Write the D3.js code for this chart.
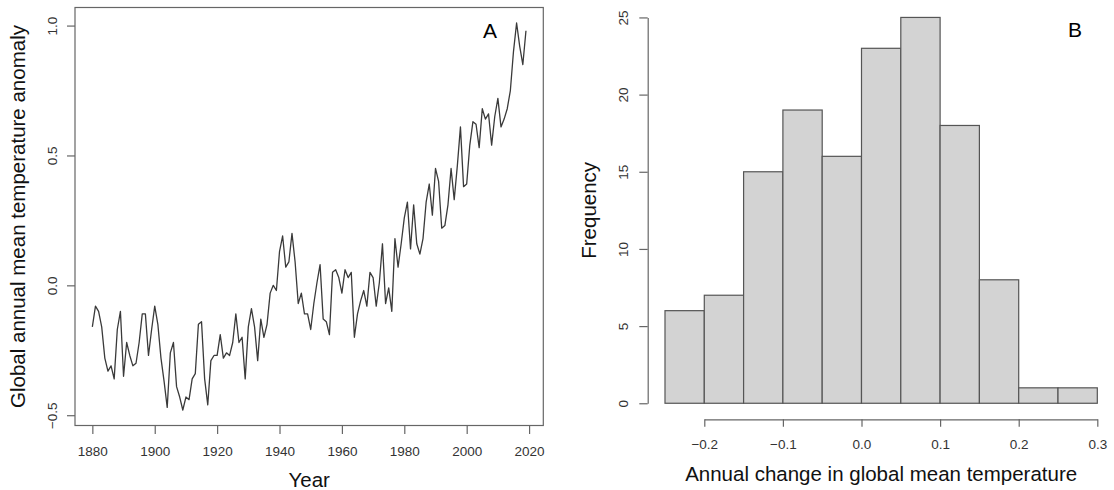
<!DOCTYPE html>
<html>
<head>
<meta charset="utf-8">
<script src="https://cdn.jsdelivr.net/npm/d3@7"></script>
<style>
  body { margin: 0; background: #fff; }
  svg { display: block; font-family: "Liberation Sans", Arial, sans-serif; }
</style>
</head>
<body>
<div id="chart"></div>
<script>
const width = 1114;
const height = 490;

// ===== DATA =====
const firstYear = 1880;
const anomaly = [
  -0.16, -0.08, -0.10, -0.16, -0.28, -0.33, -0.31, -0.36, -0.17, -0.10,
  -0.35, -0.22, -0.27, -0.31, -0.30, -0.22, -0.11, -0.11, -0.27, -0.17,
  -0.08, -0.15, -0.28, -0.37, -0.47, -0.26, -0.22, -0.39, -0.43, -0.48,
  -0.43, -0.44, -0.36, -0.34, -0.15, -0.14, -0.36, -0.46, -0.29, -0.27,
  -0.27, -0.19, -0.28, -0.26, -0.27, -0.22, -0.11, -0.22, -0.20, -0.36,
  -0.16, -0.09, -0.16, -0.29, -0.13, -0.20, -0.15, -0.03, 0.00, -0.02,
  0.13, 0.19, 0.07, 0.09, 0.20, 0.09, -0.07, -0.03, -0.11, -0.11,
  -0.17, -0.07, 0.01, 0.08, -0.13, -0.14, -0.19, 0.05, 0.06, 0.03,
  -0.03, 0.06, 0.03, 0.05, -0.20, -0.11, -0.06, -0.02, -0.08, 0.05,
  0.03, -0.08, 0.01, 0.16, -0.07, -0.01, -0.10, 0.18, 0.07, 0.16,
  0.26, 0.32, 0.14, 0.31, 0.16, 0.12, 0.18, 0.32, 0.39, 0.27,
  0.45, 0.40, 0.22, 0.23, 0.31, 0.45, 0.33, 0.46, 0.61, 0.38,
  0.39, 0.54, 0.63, 0.62, 0.53, 0.68, 0.64, 0.66, 0.54, 0.65,
  0.72, 0.61, 0.64, 0.68, 0.75, 0.90, 1.01, 0.92, 0.85, 0.98
];
const years = anomaly.map((d, i) => firstYear + i);

const binEdges = [-0.25, -0.2, -0.15, -0.1, -0.05, 0, 0.05, 0.1, 0.15, 0.2, 0.25, 0.3];
const binCounts = [6, 7, 15, 19, 16, 23, 25, 18, 8, 1, 1];

const yearTicks = [1880, 1900, 1920, 1940, 1960, 1980, 2000, 2020];
const anomalyTicks = [-0.5, 0, 0.5, 1.0];
const freqTicks = [0, 5, 10, 15, 20, 25];
const changeTicks = [-0.2, -0.1, 0, 0.1, 0.2, 0.3];

// R-style 4% padding of the data range
const pad = ([a, b]) => [a - 0.04 * (b - a), b + 0.04 * (b - a)];

const axisColor = "#666";
const textColor = "#333";

const svg = d3.select("#chart").append("svg")
  .attr("width", width)
  .attr("height", height);

// ===== PANEL A: LINE =====
const boxA = { left: 75, right: 543.3, top: 7.5, bottom: 425.5 };

const xA = d3.scaleLinear()
  .domain(pad(d3.extent(years)))
  .range([boxA.left, boxA.right]);

const yA = d3.scaleLinear()
  .domain(pad(d3.extent(anomaly)))
  .range([boxA.bottom, boxA.top]);

const series = years.map((y, i) => ({ year: y, value: anomaly[i] }));

svg.append("path")
  .datum(series)
  .attr("fill", "none")
  .attr("stroke", "#3a3a3a")
  .attr("stroke-width", 1.3)
  .attr("stroke-linejoin", "round")
  .attr("d", d3.line().x(d => xA(d.year)).y(d => yA(d.value)));

svg.append("rect")
  .attr("x", boxA.left)
  .attr("y", boxA.top)
  .attr("width", boxA.right - boxA.left)
  .attr("height", boxA.bottom - boxA.top)
  .attr("fill", "none")
  .attr("stroke", axisColor)
  .attr("stroke-width", 1.2);

const xAxisA = svg.append("g")
  .attr("transform", `translate(0,${boxA.bottom})`)
  .call(d3.axisBottom(xA).tickValues(yearTicks).tickSize(8.5).tickFormat(d3.format("d")));
xAxisA.select(".domain").remove();

const yAxisA = svg.append("g")
  .attr("transform", `translate(${boxA.left},0)`)
  .call(d3.axisLeft(yA).tickValues(anomalyTicks).tickSize(8).tickFormat(d3.format(".1f")));
yAxisA.select(".domain").remove();

// ===== PANEL B: HISTOGRAM =====
const xB = d3.scaleLinear()
  .domain(pad([binEdges[0], binEdges[binEdges.length - 1]]))
  .range([647.7, 1114.6]);

const yB = d3.scaleLinear()
  .domain(pad([0, 25]))
  .range([418.7, 2]);

const bins = binCounts.map((c, i) => ({ x0: binEdges[i], x1: binEdges[i + 1], count: c }));

svg.selectAll(".bar")
  .data(bins)
  .enter()
  .append("rect")
  .attr("class", "bar")
  .attr("x", d => xB(d.x0))
  .attr("y", d => yB(d.count))
  .attr("width", d => xB(d.x1) - xB(d.x0))
  .attr("height", d => yB(0) - yB(d.count))
  .attr("fill", "#d3d3d3")
  .attr("stroke", "#555")
  .attr("stroke-width", 1.2);

const yAxisScaleB = yB.copy().domain([0, 25]).range([yB(0), yB(25)]);
const yAxisB = svg.append("g")
  .attr("transform", `translate(${xB.range()[0]},0)`)
  .call(d3.axisLeft(yAxisScaleB).tickValues(freqTicks).tickSize(8.4).tickSizeOuter(0));

const xAxisScaleB = xB.copy().domain([-0.2, 0.3]).range([xB(-0.2), xB(0.3)]);
const xAxisB = svg.append("g")
  .attr("transform", `translate(0,${yB.range()[0] + 0.6})`)
  .call(d3.axisBottom(xAxisScaleB).tickValues(changeTicks).tickSize(7.5).tickSizeOuter(0)
    .tickFormat(d3.format(".1f")));

// ===== AXIS STYLING =====
[xAxisA, yAxisA, xAxisB, yAxisB].forEach(g => {
  g.selectAll("line, path").attr("stroke", axisColor).attr("stroke-width", 1.2);
  g.selectAll("text")
    .attr("fill", textColor)
    .style("font-size", "13.5px")
    .style("font-family", "'Liberation Sans', Arial, sans-serif");
});

[xAxisA, xAxisB].forEach(g => {
  g.selectAll("text").attr("y", 30).attr("dy", 0);
});

yAxisA.selectAll("text")
  .attr("x", 0).attr("dy", 0).attr("text-anchor", "middle")
  .attr("transform", "translate(-18,0) rotate(-90)");
yAxisB.selectAll("text")
  .attr("x", 0).attr("dy", 0).attr("text-anchor", "middle")
  .attr("transform", "translate(-19.5,0) rotate(-90)");

// ===== TITLES =====
const titleSize = "20.5px";

svg.append("text")
  .attr("x", (boxA.left + boxA.right) / 2)
  .attr("y", 487)
  .attr("text-anchor", "middle")
  .attr("fill", "#111")
  .style("font-size", titleSize)
  .text("Year");

svg.append("text")
  .attr("transform", `translate(24.5,${(boxA.top + boxA.bottom) / 2}) rotate(-90)`)
  .attr("text-anchor", "middle")
  .attr("fill", "#111")
  .style("font-size", titleSize)
  .text("Global annual mean temperature anomaly");

svg.append("text")
  .attr("x", (xB.range()[0] + xB.range()[1]) / 2)
  .attr("y", 481)
  .attr("text-anchor", "middle")
  .attr("fill", "#111")
  .style("font-size", titleSize)
  .text("Annual change in global mean temperature");

svg.append("text")
  .attr("transform", `translate(596,${(yB.range()[0] + yB.range()[1]) / 2}) rotate(-90)`)
  .attr("text-anchor", "middle")
  .attr("fill", "#111")
  .style("font-size", titleSize)
  .text("Frequency");

// panel letters
svg.append("text")
  .attr("x", 490).attr("y", 38)
  .attr("text-anchor", "middle")
  .attr("fill", "#000")
  .style("font-size", "21px")
  .text("A");

svg.append("text")
  .attr("x", 1075).attr("y", 37)
  .attr("text-anchor", "middle")
  .attr("fill", "#000")
  .style("font-size", "21px")
  .text("B");
</script>
</body>
</html>
